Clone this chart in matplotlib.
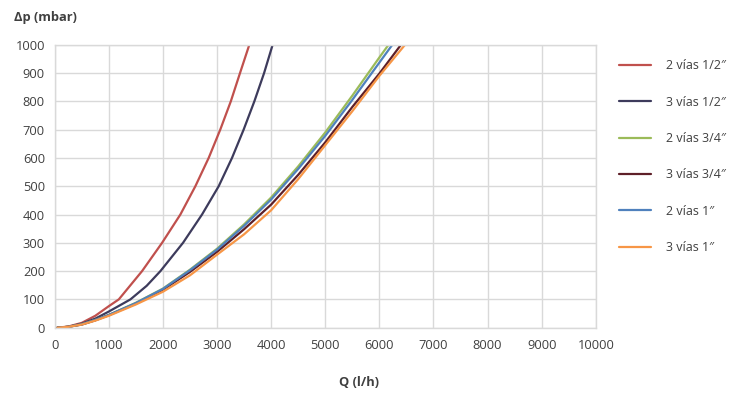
import matplotlib
matplotlib.use('Agg')
import matplotlib.pyplot as plt

# Pressure drop curves (Q in l/h, dp in mbar)
q_2v_12 = [50, 250, 500, 750, 1000, 1185, 1615, 1985, 2323, 2600, 2846, 3060, 3255, 3425, 3597]
dp_2v_12 = [0, 4, 17, 42, 76, 100, 200, 300, 400, 500, 600, 700, 800, 900, 1000]

q_3v_12 = [50, 250, 500, 750, 1000, 1400, 1700, 1954, 2372, 2723, 3031, 3277, 3492, 3690, 3870, 4028]
dp_3v_12 = [0, 3, 14, 32, 57, 100, 148, 200, 300, 400, 500, 600, 700, 800, 900, 1000]

q_2v_34 = [50, 250, 500, 750, 1000, 1500, 2000, 2500, 3000, 3500, 4000, 4500, 5000, 5500, 6000, 6170]
dp_2v_34 = [0, 3, 12, 27, 45, 88, 138, 205, 279, 365, 460, 570, 690, 820, 955, 1000]

q_3v_34 = [50, 250, 500, 750, 1000, 1500, 2000, 2500, 3000, 3500, 4000, 4500, 5000, 5500, 6000, 6400]
dp_3v_34 = [0, 3, 11, 26, 44, 85, 134, 197, 268, 348, 435, 540, 655, 780, 898, 1000]

q_2v_1 = [50, 250, 500, 750, 1000, 1500, 2000, 2500, 3000, 3500, 4000, 4500, 5000, 5500, 6000, 6240]
dp_2v_1 = [0, 3, 12, 27, 45, 87, 137, 203, 276, 360, 453, 561, 678, 805, 937, 1000]

q_3v_1 = [50, 250, 500, 750, 1000, 1500, 2000, 2500, 3000, 3500, 4000, 4500, 5000, 5500, 6000, 6475]
dp_3v_1 = [0, 3, 11, 25, 42, 82, 127, 185, 258, 330, 415, 525, 645, 765, 890, 1000]

labels = ['2 vías 1/2″', '3 vías 1/2″', '2 vías 3/4″', '3 vías 3/4″', '2 vías 1″', '3 vías 1″']
colors = ['#C0504D', '#3D3B5C', '#9BBB59', '#5E1F28', '#4F81BD', '#F79646']
series = [(q_2v_12, dp_2v_12), (q_3v_12, dp_3v_12), (q_2v_34, dp_2v_34),
          (q_3v_34, dp_3v_34), (q_2v_1, dp_2v_1), (q_3v_1, dp_3v_1)]

x_ticks = list(range(0, 10001, 1000))
y_ticks = list(range(0, 1001, 100))

plt.rcParams['font.family'] = ['Open Sans', 'DejaVu Sans']
text_color = '#404040'
grid_color = '#D9D9D9'

fig = plt.figure(figsize=(7.49, 3.94), dpi=100)
ax = fig.add_axes([0.073, 0.1683, 0.7225, 0.7182])

for (q, dp), lab, col in zip(series, labels, colors):
    ax.plot(q, dp, color=col, linewidth=1.6, label=lab,
            solid_capstyle='round', solid_joinstyle='round')

ax.set_xlim(0, 10000)
ax.set_ylim(0, 1000)
ax.set_xticks(x_ticks)
ax.set_yticks(y_ticks)
ax.tick_params(length=0, labelsize=9.3, colors=text_color)
ax.tick_params(axis='x', pad=8)
ax.tick_params(axis='y', pad=7)
ax.grid(True, color=grid_color, linewidth=1)
ax.set_axisbelow(True)
for side in ['left', 'bottom', 'right', 'top']:
    ax.spines[side].set_color(grid_color)
    ax.spines[side].set_linewidth(1)

fig.text(0.019, 0.955, 'Δp (mbar)', fontsize=9.3, fontweight='bold', color=text_color, va='center')
fig.text(0.479, 0.028, 'Q (l/h)', fontsize=9.3, fontweight='bold', color=text_color, va='center', ha='center')

leg = fig.legend(loc='upper left', bbox_to_anchor=(0.811, 0.878), frameon=False,
                 fontsize=9, handlelength=2.6, handletextpad=1.2, labelspacing=1.87)
for t in leg.get_texts():
    t.set_color(text_color)

plt.savefig('out.png', dpi=100)
